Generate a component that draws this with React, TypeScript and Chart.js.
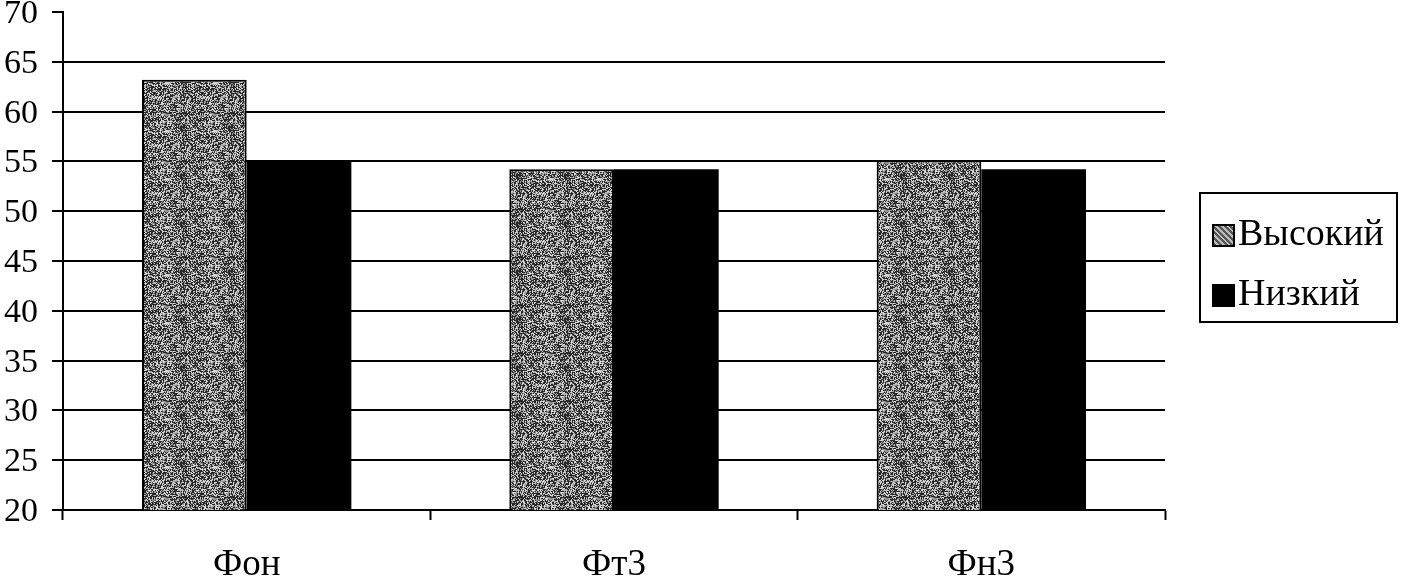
import React, { useEffect, useRef } from "react";
import { Chart, registerables } from "chart.js";

Chart.register(...registerables);

const categories = ["Фон", "Фт3", "Фн3"];
const highValues = [63.2, 54.2, 55.1];
const lowValues = [55.1, 54.2, 54.2];
const seriesNames = ["Высокий", "Низкий"];
const yTicks = [20, 25, 30, 35, 40, 45, 50, 55, 60, 65, 70];

const FONT = "'Liberation Serif', 'Times New Roman', serif";

function makeTexture(): CanvasPattern | string {
  const c = document.createElement("canvas");
  c.width = 48;
  c.height = 48;
  const g = c.getContext("2d");
  if (!g) return "#8a8a8a";
  const img = g.createImageData(48, 48);
  for (let y = 0; y < 48; y++) {
    for (let x = 0; x < 48; x++) {
      const h = ((x * 73856093) ^ (y * 19349663) ^ ((x + y) * 83492791)) >>> 0;
      const v = h % 100;
      const shade = v < 45 ? 40 : v < 70 ? 150 : 215;
      const i = (y * 48 + x) * 4;
      img.data[i] = shade;
      img.data[i + 1] = shade;
      img.data[i + 2] = shade;
      img.data[i + 3] = 255;
    }
  }
  g.putImageData(img, 0, 0);
  const ctx = document.createElement("canvas").getContext("2d");
  return ctx?.createPattern(c, "repeat") || "#8a8a8a";
}

export default function App() {
  const ref = useRef<HTMLCanvasElement | null>(null);

  useEffect(() => {
    if (!ref.current) return;
    const texture = makeTexture();
    const chart = new Chart(ref.current, {
      type: "bar",
      data: {
        labels: categories,
        datasets: [
          {
            label: seriesNames[0],
            data: highValues,
            backgroundColor: texture as any,
            borderColor: "#000",
            borderWidth: 2,
            borderSkipped: false,
          },
          {
            label: seriesNames[1],
            data: lowValues,
            backgroundColor: "#000",
            borderColor: "#000",
            borderWidth: 0,
          },
        ],
      },
      options: {
        animation: false,
        responsive: false,
        maintainAspectRatio: false,
        layout: { padding: { top: 12, right: 237, left: 0, bottom: 0 } },
        plugins: {
          legend: { display: false },
          tooltip: { enabled: false },
        },
        datasets: {
          bar: { categoryPercentage: 0.57, barPercentage: 1.0 },
        },
        scales: {
          x: {
            offset: true,
            grid: {
              offset: true,
              drawOnChartArea: false,
              drawTicks: true,
              tickLength: 10,
              tickWidth: 2,
              tickColor: "#000",
            },
            border: { display: true, color: "#000", width: 2 },
            ticks: {
              color: "#000",
              font: { family: FONT, size: 37 },
              padding: 23,
            },
            afterFit: (s: any) => {
              s.height = 71;
              s.paddingLeft = 0;
              s.paddingRight = 0;
            },
          },
          y: {
            min: 20,
            max: 70,
            afterBuildTicks: (s: any) => {
              s.ticks = yTicks.map((v) => ({ value: v }));
            },
            grid: {
              color: (c: any) => (c.tick && c.tick.value === 70 ? "rgba(0,0,0,0)" : "#000"),
              lineWidth: 2,
              tickColor: "#000",
              tickLength: 11,
              tickWidth: 2,
            },
            border: { display: true, color: "#000", width: 2 },
            ticks: {
              color: "#000",
              font: { family: FONT, size: 34 },
              padding: 14,
              labelOffset: 2,
            },
            afterFit: (s: any) => {
              s.width = 63;
              s.paddingTop = 0;
              s.paddingBottom = 0;
            },
          },
        },
      },
    });
    return () => chart.destroy();
  }, []);

  const swatch: React.CSSProperties = {
    display: "inline-block",
    width: 23,
    height: 23,
    marginRight: 3,
    verticalAlign: "-2px",
    boxSizing: "border-box",
  };

  return (
    <div style={{ position: "absolute", left: 0, top: 0, width: 1402, height: 581, background: "#fff" }}>
      <canvas ref={ref} width={1402} height={581} style={{ display: "block" }} />
      <div
        style={{
          position: "absolute",
          left: 1199,
          top: 192,
          width: 199,
          height: 131,
          border: "2px solid #000",
          boxSizing: "border-box",
          fontFamily: FONT,
          fontSize: 38,
          color: "#000",
        }}
      >
        <div style={{ position: "absolute", left: 11, top: 20, whiteSpace: "nowrap", lineHeight: "36px" }}>
          <span
            style={{
              ...swatch,
              background: "repeating-linear-gradient(45deg, #555 0 2px, #bbb 2px 4px)",
              border: "2px solid #000",
            }}
          />
          {seriesNames[0]}
        </div>
        <div style={{ position: "absolute", left: 11, top: 80, whiteSpace: "nowrap", lineHeight: "36px" }}>
          <span style={{ ...swatch, background: "#000" }} />
          {seriesNames[1]}
        </div>
      </div>
    </div>
  );
}
